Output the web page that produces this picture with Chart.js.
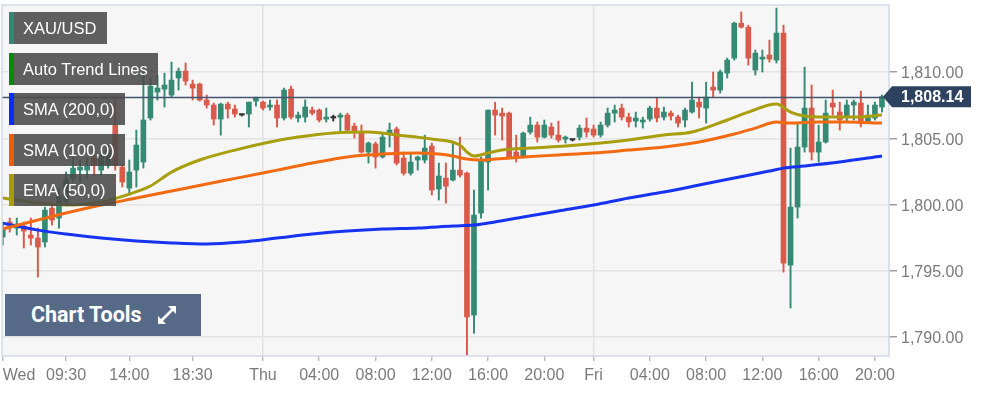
<!DOCTYPE html>
<html>
<head>
<meta charset="utf-8">
<script src="https://cdn.jsdelivr.net/npm/chart.js@4.4.1/dist/chart.umd.min.js"></script>
<style>
html,body{margin:0;padding:0;background:#fff;}
#wrap{position:relative;width:984px;height:396px;overflow:hidden;}
#c{position:absolute;left:0;top:0;}
.leg{position:absolute;left:9px;height:32px;background:rgba(74,74,74,0.88);color:#fff;font:16.5px "Liberation Sans",Arial,sans-serif;line-height:32px;padding-left:14px;box-sizing:border-box;white-space:nowrap;}
.leg::before{content:"";position:absolute;left:0;top:0;bottom:0;width:5px;background:var(--c);}
#tools{position:absolute;left:5px;top:294px;width:196px;height:42px;background:#566a87;color:#fff;font:bold 21.5px Roboto,"Liberation Sans",sans-serif;line-height:42px;box-sizing:border-box;padding-left:26px;white-space:nowrap;}
#tools svg{position:absolute;left:152px;top:11px;}
</style>
</head>
<body>
<div id="wrap">
<canvas id="c" width="984" height="396"></canvas>
<div class="leg" style="top:12px;width:98px;--c:#2e8a72">XAU/USD</div>
<div class="leg" style="top:53px;width:149px;--c:#078a07">Auto Trend Lines</div>
<div class="leg" style="top:93px;width:116px;--c:#0a2cff">SMA (200,0)</div>
<div class="leg" style="top:134px;width:116px;--c:#f05c05">SMA (100,0)</div>
<div class="leg" style="top:174px;width:107px;--c:#a89c00">EMA (50,0)</div>
<div id="tools">Chart Tools<svg width="20" height="20" viewBox="0 0 20 20"><path d="M11 1h8v8z M1 11v8h8z" fill="#fff"/><path d="M16.5 3.5L3.5 16.5" stroke="#fff" stroke-width="2.6"/></svg></div>
</div>
<script>
// ---- data (30-minute candles, XAU/USD) ----
const opens = [
1797.55,1798.68,1798.22,1798.38,1797.70,1797.47,1797.17,1799.73,1798.98,1800.19,
1801.99,1802.60,1802.60,1803.51,1802.60,1802.98,1805.99,1802.83,1801.24,1802.60,
1803.21,1806.53,1808.49,1808.71,1808.26,1809.55,1810.07,1809.09,1809.09,1807.89,
1807.51,1806.45,1807.58,1807.21,1806.75,1806.83,1807.81,1807.73,1807.36,1807.51,
1806.53,1808.71,1806.53,1806.60,1807.13,1807.13,1806.45,1806.53,1806.60,1806.75,
1805.92,1805.39,1803.96,1804.57,1803.59,1805.39,1805.70,1803.51,1802.37,1803.36,
1803.36,1804.41,1801.17,1802.00,1801.85,1802.60,1802.37,1791.66,1799.36,1803.21,
1807.13,1806.90,1806.90,1803.96,1803.59,1805.47,1806.00,1805.09,1805.85,1805.24,
1804.94,1804.87,1805.09,1805.77,1805.70,1805.24,1806.00,1806.90,1807.28,1806.60,
1806.30,1806.23,1806.45,1807.28,1806.60,1806.90,1806.60,1806.38,1806.98,1807.73,
1807.28,1808.87,1808.64,1809.92,1811.05,1813.69,1813.39,1810.15,1810.98,1811.28,
1810.90,1812.94,1795.43,1799.81,1804.34,1807.28,1803.96,1804.72,1807.66,1806.98,
1806.60,1807.51,1807.66,1806.23,1806.53,1807.36];
const closes = [
1798.22,1798.38,1798.53,1798.00,1797.47,1796.79,1799.58,1798.83,1800.72,1801.85,
1802.75,1802.83,1802.90,1802.98,1803.74,1804.11,1802.98,1801.70,1802.45,1804.49,
1806.38,1808.94,1808.79,1809.02,1809.39,1810.07,1809.32,1808.79,1807.89,1807.51,
1806.45,1807.58,1807.21,1806.83,1806.75,1807.73,1808.04,1807.28,1807.51,1806.53,
1808.64,1806.60,1806.75,1807.36,1806.90,1806.38,1806.60,1806.53,1806.75,1805.62,
1805.47,1803.96,1804.64,1803.59,1805.09,1805.62,1803.13,1802.37,1803.21,1803.59,
1804.26,1801.09,1802.15,1801.39,1802.60,1802.22,1791.51,1799.21,1803.36,1807.13,
1806.75,1806.68,1803.59,1803.59,1805.39,1806.00,1805.09,1806.00,1805.24,1804.87,
1805.09,1804.87,1805.77,1805.47,1805.24,1806.00,1806.90,1807.13,1806.60,1806.23,
1806.53,1806.38,1807.28,1806.53,1806.98,1806.68,1806.15,1807.13,1807.89,1807.36,
1808.11,1808.64,1810.00,1810.90,1813.69,1813.39,1811.05,1811.43,1811.13,1810.98,
1812.94,1795.58,1799.81,1804.34,1807.28,1803.96,1804.72,1806.90,1807.36,1806.38,
1807.51,1807.73,1806.15,1806.75,1807.51,1808.14];
const highs = [
1798.68,1798.98,1798.98,1798.68,1798.98,1798.22,1799.81,1800.19,1801.24,1802.45,
1803.59,1803.36,1803.51,1803.74,1804.26,1804.49,1808.11,1802.98,1803.36,1805.62,
1810.15,1809.55,1809.77,1809.92,1810.75,1810.30,1810.68,1809.39,1809.17,1808.26,
1807.66,1807.66,1807.73,1807.51,1806.83,1807.73,1808.11,1807.81,1807.89,1807.89,
1808.79,1808.94,1806.98,1807.89,1807.36,1807.21,1807.28,1806.75,1806.90,1806.90,
1806.15,1806.00,1804.72,1804.72,1805.39,1806.15,1805.85,1803.96,1803.89,1803.66,
1805.24,1804.64,1803.13,1803.13,1804.72,1805.09,1802.45,1801.09,1803.59,1807.13,
1807.73,1807.28,1806.98,1805.24,1805.47,1806.60,1806.23,1806.38,1806.15,1806.30,
1805.17,1804.94,1806.00,1806.53,1806.00,1806.23,1807.28,1807.51,1807.58,1806.90,
1806.98,1806.60,1807.43,1808.04,1807.36,1807.06,1806.75,1807.28,1809.24,1808.11,
1809.24,1810.00,1810.15,1811.05,1813.77,1814.53,1813.54,1811.66,1811.66,1812.41,
1814.83,1813.54,1804.26,1806.15,1810.37,1809.02,1805.99,1807.89,1808.64,1807.73,
1807.89,1807.89,1808.56,1807.51,1807.73,1808.26];
const lows = [
1796.94,1797.92,1797.70,1796.72,1796.94,1794.53,1796.79,1798.45,1798.22,1800.11,
1801.70,1801.70,1802.00,1802.22,1802.22,1802.75,1802.60,1801.32,1800.72,1801.32,
1802.75,1806.38,1807.89,1807.36,1808.11,1808.64,1809.02,1807.89,1807.81,1807.28,
1806.00,1805.24,1806.53,1806.60,1806.68,1805.85,1807.43,1807.13,1807.13,1805.85,
1806.38,1806.45,1806.23,1806.23,1806.75,1806.23,1806.23,1806.30,1805.47,1805.47,
1805.02,1803.89,1803.13,1802.75,1803.51,1804.34,1802.98,1802.22,1802.22,1802.60,
1803.13,1800.72,1800.34,1800.11,1801.77,1802.07,1788.64,1790.30,1798.98,1801.09,
1805.24,1804.87,1803.51,1803.21,1803.51,1805.32,1804.72,1805.02,1805.02,1804.72,
1804.64,1804.79,1804.87,1805.09,1805.09,1805.09,1805.85,1806.23,1806.38,1805.85,
1805.85,1805.77,1806.30,1806.23,1806.38,1806.38,1805.85,1805.85,1806.90,1806.53,
1806.15,1808.11,1808.41,1809.54,1810.90,1813.32,1810.52,1809.77,1810.00,1810.75,
1810.68,1794.90,1792.19,1798.98,1803.96,1803.36,1803.21,1804.64,1806.75,1805.62,
1806.23,1806.38,1805.85,1806.15,1806.38,1806.98];

// moving averages read at sampled candle positions
const sma200X = [0,5,9,14,19,24,29,34,39,44,49,54,59,64,67,69,74,79,84,89,94,99,104,109,111,114,119,125];
const sma200Y = [1798.60,1798.07,1797.77,1797.47,1797.25,1797.10,1797.02,1797.17,1797.47,1797.77,1798.00,1798.15,1798.23,1798.38,1798.45,1798.60,1799.06,1799.51,1799.96,1800.49,1800.94,1801.47,1802.00,1802.53,1802.75,1802.91,1803.21,1803.66];
const sma100X = [0,5,9,14,19,24,29,34,39,44,49,54,59,62,64,66,68,70,74,79,84,89,94,99,104,107,110,112,116,120,125];
const sma100Y = [1798.15,1798.83,1799.36,1799.96,1800.49,1801.02,1801.55,1802.07,1802.60,1803.13,1803.59,1803.81,1803.89,1803.81,1803.66,1803.43,1803.36,1803.43,1803.59,1803.74,1803.89,1804.11,1804.34,1804.72,1805.32,1805.77,1806.23,1806.15,1806.23,1806.23,1806.15];
const ema50X = [0,5,9,14,18,21,24,28,33,38,42,47,52,56,61,65,66,67,69,71,75,80,85,89,94,98,103,106,110,112,114,117,121,125];
const ema50Y = [1800.49,1800.11,1799.96,1800.19,1800.79,1801.40,1802.45,1803.36,1804.11,1804.72,1805.09,1805.40,1805.47,1805.25,1804.94,1804.49,1803.96,1803.66,1803.89,1804.11,1804.26,1804.42,1804.64,1804.87,1805.25,1805.47,1806.38,1806.98,1807.58,1806.98,1806.68,1806.60,1806.60,1806.75];

const xTickIdx = [0,9,18,27,37,45,53,61,69,77,84,92,100,108,116,124];
const xTickLabels = ['Wed','09:30','14:00','18:30','Thu','04:00','08:00','12:00','16:00','20:00','Fri','04:00','08:00','12:00','16:00','20:00'];
const dayIdx = [37,84];
const yTicks = [1790,1795,1800,1805,1810];

// ---- chart ----
const GREEN = '#358a74', RED = '#d95a4a', DOJI = '#333333';
const idx = opens.map((_, i) => i);
const candleColor = i => closes[i] > opens[i] ? GREEN : (closes[i] < opens[i] ? RED : DOJI);
const colors = idx.map(candleColor);
const lastPrice = closes[closes.length - 1];
const fmt = v => Number(v).toLocaleString('en-US', {minimumFractionDigits: 2, maximumFractionDigits: 2});
const FONT = '"Liberation Sans", Arial, sans-serif';

const decor = {
  id: 'decor',
  beforeDraw(chart) {
    const {ctx, chartArea: a} = chart;
    ctx.save();
    ctx.fillStyle = '#f6f6f6';
    ctx.fillRect(a.left, a.top, a.right - a.left, a.bottom - a.top);
    ctx.restore();
  },
  afterDatasetsDraw(chart) {
    const {ctx, chartArea: a, scales: {y}} = chart;
    const py = Math.round(y.getPixelForValue(lastPrice)) + 0.5;
    ctx.save();
    ctx.strokeStyle = '#42566f';
    ctx.lineWidth = 1.5;
    ctx.beginPath(); ctx.moveTo(a.left, py); ctx.lineTo(a.right, py); ctx.stroke();
    ctx.restore();
  },
  afterDraw(chart) {
    const {ctx, chartArea: a, scales: {x, y}} = chart;
    ctx.save();
    ctx.strokeStyle = '#d3d9e6';
    ctx.lineWidth = 1.5;
    ctx.strokeRect(a.left, a.top, a.right - a.left, a.bottom - a.top);
    const py = y.getPixelForValue(lastPrice);
    ctx.fillStyle = '#2d425f';
    ctx.beginPath();
    ctx.moveTo(a.right - 6, py);
    ctx.lineTo(a.right + 3, py - 10.5);
    ctx.lineTo(a.right + 82, py - 10.5);
    ctx.lineTo(a.right + 82, py + 10.5);
    ctx.lineTo(a.right + 3, py + 10.5);
    ctx.closePath();
    ctx.fill();
    ctx.fillStyle = '#ffffff';
    ctx.font = 'bold 16px ' + FONT;
    ctx.textBaseline = 'middle';
    ctx.textAlign = 'left';
    ctx.fillText(fmt(lastPrice), a.right + 12, py + 1);
    ctx.fillStyle = '#7a7a7a';
    ctx.font = '16px ' + FONT;
    ctx.fillText(xTickLabels[0], x.getPixelForValue(xTickIdx[0]), 375.5);
    ctx.restore();
  }
};

Chart.defaults.font.family = FONT;

new Chart(document.getElementById('c'), {
  type: 'bar',
  data: {
    datasets: [
      {type: 'line', label: 'EMA (50,0)', data: ema50X.map((v, i) => ({x: v, y: ema50Y[i]})),
       borderColor: '#a89e0e', borderWidth: 3, pointRadius: 0, fill: false, cubicInterpolationMode: 'monotone', order: 0},
      {type: 'line', label: 'SMA (100,0)', data: sma100X.map((v, i) => ({x: v, y: sma100Y[i]})),
       borderColor: '#f26a12', borderWidth: 3, pointRadius: 0, fill: false, cubicInterpolationMode: 'monotone', order: 0},
      {type: 'line', label: 'SMA (200,0)', data: sma200X.map((v, i) => ({x: v, y: sma200Y[i]})),
       borderColor: '#1733f2', borderWidth: 3, pointRadius: 0, fill: false, cubicInterpolationMode: 'monotone', order: 0},
      {type: 'bar', label: 'body', data: idx.map(i => ({x: i, y: [opens[i], closes[i]]})),
       backgroundColor: colors, barThickness: 5, minBarLength: 1.5, grouped: false, order: 1},
      {type: 'bar', label: 'wick', data: idx.map(i => ({x: i, y: [lows[i], highs[i]]})),
       backgroundColor: colors, barThickness: 1.3, grouped: false, order: 2}
    ]
  },
  options: {
    responsive: false,
    animation: false,
    events: [],
    layout: {autoPadding: false, padding: {left: 2, top: 5, right: 0, bottom: 0}},
    plugins: {legend: {display: false}, tooltip: {enabled: false}},
    scales: {
      x: {
        type: 'linear', min: -0.1, max: 126, offset: false,
        afterBuildTicks: s => { s.ticks = xTickIdx.map(v => ({value: v})); },
        afterFit: s => { s.height = 40; s.paddingLeft = 0; s.paddingRight = 0; },
        grid: {
          offset: false,
          color: c => (c.tick && dayIdx.includes(c.tick.value)) ? '#e2e2e2' : 'rgba(0,0,0,0)',
          lineWidth: 1.5, drawTicks: true, tickLength: 5, tickColor: '#b0b0b0', tickWidth: 1.2
        },
        border: {display: false},
        ticks: {autoSkip: false, maxRotation: 0, padding: 5, color: '#7a7a7a', font: {size: 16},
          callback: (v, i) => i === 0 ? '' : xTickLabels[i]}
      },
      y: {
        position: 'right', min: 1788.57, max: 1815.06,
        afterBuildTicks: s => { s.ticks = yTicks.map(v => ({value: v})); },
        afterFit: s => { s.width = 95; s.paddingTop = 0; s.paddingBottom = 0; },
        grid: {color: '#e4e4e4', lineWidth: 1.5, tickLength: 8, tickColor: '#a0a0a0', tickWidth: 1.5},
        border: {display: false},
        ticks: {padding: 4, labelOffset: 2, color: '#7a7a7a', font: {size: 16}, callback: v => fmt(v)}
      }
    }
  },
  plugins: [decor]
});
</script>
</body>
</html>
